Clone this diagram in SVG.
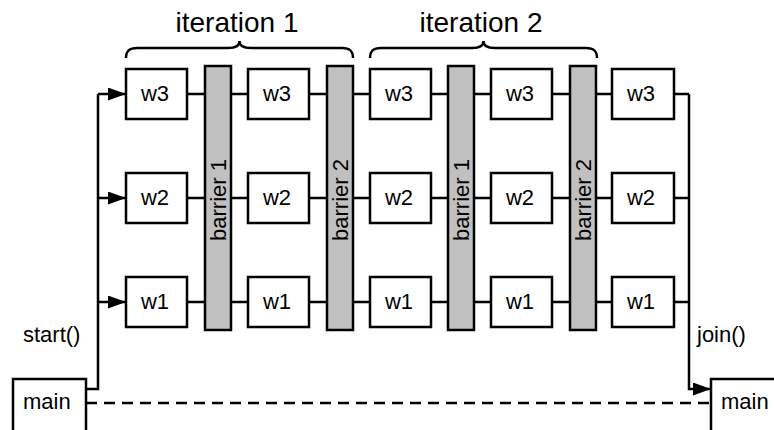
<svg xmlns="http://www.w3.org/2000/svg" width="774" height="430" viewBox="0 0 774 430">
  <style>
    .box { fill: #ffffff; stroke: #000000; stroke-width: 2.5; }
    .bar { fill: #c0c0c0; stroke: #000000; stroke-width: 2.5; }
    .lbl { font-family: "Liberation Sans", Arial, Helvetica, sans-serif; font-size: 22px; fill: #000000; }
    .big { font-family: "Liberation Sans", Arial, Helvetica, sans-serif; font-size: 28px; fill: #000000; text-anchor: middle; }
    .wire { fill: none; stroke: #000000; stroke-width: 2.5; }
    .dash { fill: none; stroke: #000000; stroke-width: 2.5; stroke-dasharray: 11 7; }
    .brace { fill: none; stroke: #000000; stroke-width: 2.5; }
  </style>
  <defs>
    <marker id="arrow" markerUnits="userSpaceOnUse" markerWidth="18" markerHeight="13" refX="18" refY="6.5" orient="auto">
      <path d="M0,0 L18,6.5 L0,13 z" fill="#000000"/>
    </marker>
  </defs>

  <rect width="774" height="430" fill="#ffffff"/>

  <!-- iteration labels and braces -->
  <g id="iteration1">
    <text class="big" x="237" y="32">iteration 1</text>
    <path class="brace" d="M126,58 C126,51 129,48 137,48 L228,48 C235,48 239.5,46 239.5,41 C239.5,46 244,48 251,48 L342,48 C350,48 353,51 353,58"/>
  </g>
  <g id="iteration2">
    <text class="big" x="481" y="32">iteration 2</text>
    <path class="brace" d="M370,58 C370,51 373,48 381,48 L472,48 C479,48 483.5,46 483.5,41 C483.5,46 488,48 495,48 L586,48 C594,48 597,51 597,58"/>
  </g>

  <!-- connectors -->
  <g id="connectors">
    <!-- start(): main fans out to the first column -->
    <path class="wire" d="M86,389 L98,389 L98,94"/>
    <line class="wire" x1="98" y1="94" x2="126" y2="94" marker-end="url(#arrow)"/>
    <line class="wire" x1="98" y1="198" x2="126" y2="198" marker-end="url(#arrow)"/>
    <line class="wire" x1="98" y1="302" x2="126" y2="302" marker-end="url(#arrow)"/>

    <!-- worker stubs into and out of the barriers -->
    <g id="stubs">
      <path class="wire" d="M187,94 H205 M231,94 H248 M309,94 H327 M353,94 H370 M431,94 H448 M474,94 H491 M552,94 H570 M595,94 H612"/>
      <path class="wire" d="M187,198 H205 M231,198 H248 M309,198 H327 M353,198 H370 M431,198 H448 M474,198 H491 M552,198 H570 M595,198 H612"/>
      <path class="wire" d="M187,302 H205 M231,302 H248 M309,302 H327 M353,302 H370 M431,302 H448 M474,302 H491 M552,302 H570 M595,302 H612"/>
    </g>

    <!-- join(): last column gathers back into main -->
    <path class="wire" d="M674,94 H689 M674,198 H689 M674,302 H689"/>
    <path class="wire" d="M689,94 L689,389 L711,389" marker-end="url(#arrow)"/>

    <!-- main thread waiting -->
    <line class="dash" x1="86" y1="403" x2="711" y2="403"/>
  </g>

  <text class="lbl" x="23" y="342">start()</text>
  <text class="lbl" x="697" y="342">join()</text>

  <!-- main thread -->
  <g id="main-start">
    <rect class="box" x="13" y="379" width="73" height="62"/>
    <text class="lbl" x="23" y="409">main</text>
  </g>
  <g id="main-end">
    <rect class="box" x="711" y="379" width="73" height="62"/>
    <text class="lbl" x="721" y="409">main</text>
  </g>

  <!-- barriers -->
  <g id="barrier-1a">
    <rect class="bar" x="205" y="66" width="26" height="264"/>
    <text class="lbl" transform="translate(226,200) rotate(-90)" text-anchor="middle">barrier 1</text>
  </g>
  <g id="barrier-2a">
    <rect class="bar" x="327" y="66" width="26" height="264"/>
    <text class="lbl" transform="translate(348,200) rotate(-90)" text-anchor="middle">barrier 2</text>
  </g>
  <g id="barrier-1b">
    <rect class="bar" x="448" y="66" width="26" height="264"/>
    <text class="lbl" transform="translate(469,200) rotate(-90)" text-anchor="middle">barrier 1</text>
  </g>
  <g id="barrier-2b">
    <rect class="bar" x="570" y="66" width="26" height="264"/>
    <text class="lbl" transform="translate(591,200) rotate(-90)" text-anchor="middle">barrier 2</text>
  </g>

  <!-- workers: column 1 -->
  <g id="c1-w3"><rect class="box" x="126" y="69" width="61" height="50"/><text class="lbl" x="155" y="101" text-anchor="middle">w3</text></g>
  <g id="c1-w2"><rect class="box" x="126" y="173" width="61" height="50"/><text class="lbl" x="155" y="205" text-anchor="middle">w2</text></g>
  <g id="c1-w1"><rect class="box" x="126" y="277" width="61" height="50"/><text class="lbl" x="155" y="309" text-anchor="middle">w1</text></g>
  <!-- column 2 -->
  <g id="c2-w3"><rect class="box" x="248" y="69" width="61" height="50"/><text class="lbl" x="277" y="101" text-anchor="middle">w3</text></g>
  <g id="c2-w2"><rect class="box" x="248" y="173" width="61" height="50"/><text class="lbl" x="277" y="205" text-anchor="middle">w2</text></g>
  <g id="c2-w1"><rect class="box" x="248" y="277" width="61" height="50"/><text class="lbl" x="277" y="309" text-anchor="middle">w1</text></g>
  <!-- column 3 -->
  <g id="c3-w3"><rect class="box" x="370" y="69" width="61" height="50"/><text class="lbl" x="399" y="101" text-anchor="middle">w3</text></g>
  <g id="c3-w2"><rect class="box" x="370" y="173" width="61" height="50"/><text class="lbl" x="399" y="205" text-anchor="middle">w2</text></g>
  <g id="c3-w1"><rect class="box" x="370" y="277" width="61" height="50"/><text class="lbl" x="399" y="309" text-anchor="middle">w1</text></g>
  <!-- column 4 -->
  <g id="c4-w3"><rect class="box" x="491" y="69" width="61" height="50"/><text class="lbl" x="520" y="101" text-anchor="middle">w3</text></g>
  <g id="c4-w2"><rect class="box" x="491" y="173" width="61" height="50"/><text class="lbl" x="520" y="205" text-anchor="middle">w2</text></g>
  <g id="c4-w1"><rect class="box" x="491" y="277" width="61" height="50"/><text class="lbl" x="520" y="309" text-anchor="middle">w1</text></g>
  <!-- column 5 -->
  <g id="c5-w3"><rect class="box" x="612" y="69" width="62" height="50"/><text class="lbl" x="641" y="101" text-anchor="middle">w3</text></g>
  <g id="c5-w2"><rect class="box" x="612" y="173" width="62" height="50"/><text class="lbl" x="641" y="205" text-anchor="middle">w2</text></g>
  <g id="c5-w1"><rect class="box" x="612" y="277" width="62" height="50"/><text class="lbl" x="641" y="309" text-anchor="middle">w1</text></g>
</svg>
